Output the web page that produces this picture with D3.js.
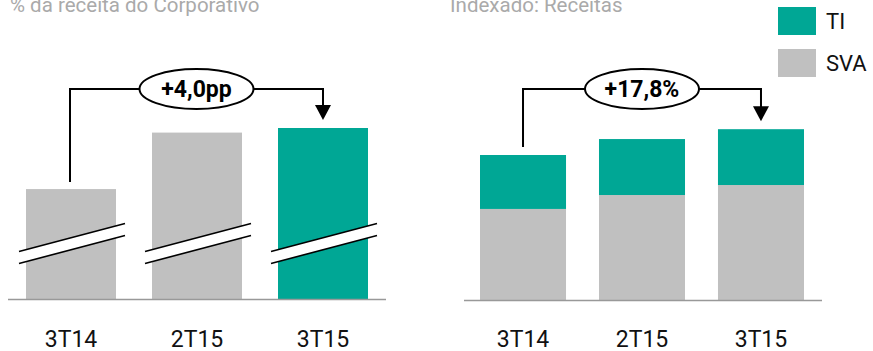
<!DOCTYPE html>
<html>
<head>
<meta charset="utf-8">
<script src="https://cdn.jsdelivr.net/npm/d3@7"></script>
<style>
  body { margin: 0; background: #fff; }
  text { font-family: Roboto, "Noto Sans", sans-serif; }
</style>
</head>
<body>
<div class="chart"></div>
<script>
// data
var periods = ["3T14", "2T15", "3T15"];
// left: % da receita do Corporativo (eixo quebrado)
var shareValues = [20.0, 23.7, 24.0];
var shareDelta = "+4,0pp";
// right: indexado, receitas (3T14 = 100)
var sva = [62.8, 72.4, 79.3];
var ti = [37.2, 38.6, 38.5];
var growthLabel = "+17,8%";
var legendLabels = ["TI", "SVA"];

var teal = "#00a795", grey = "#c0c0c0";

var svg = d3.select(".chart").append("svg")
    .attr("width", 873)
    .attr("height", 351);

var baseY = 299;

// ---------- left chart ----------
var x1 = d3.scaleBand().domain(periods).range([26, 368]).paddingInner(0.2857).paddingOuter(0);
var y1 = d3.scaleLinear().domain([12.8, 24.0]).range([baseY, 128]);

var left = svg.append("g");

left.selectAll(".bar")
    .data(shareValues)
    .enter().append("rect")
    .attr("class", "bar")
    .attr("x", function(d, i){ return x1(periods[i]); })
    .attr("width", x1.bandwidth())
    .attr("y", function(d){ return y1(d); })
    .attr("height", function(d){ return baseY - y1(d); })
    .attr("fill", function(d, i){ return i == 2 ? teal : grey; });

// axis break marks
left.selectAll(".brk")
    .data(periods)
    .enter().append("path")
    .attr("class", "brk")
    .attr("d", function(d){
      var a = x1(d) - 7, b = x1(d) + x1.bandwidth() + 9;
      return "M" + a + ",251.5 L" + b + ",223.5 L" + b + ",235.5 L" + a + ",263.5 Z";
    })
    .attr("fill", "#fff");
left.selectAll(".brkline")
    .data(d3.cross(periods, [0, 12]))
    .enter().append("line")
    .attr("x1", function(d){ return x1(d[0]) - 7; })
    .attr("x2", function(d){ return x1(d[0]) + x1.bandwidth() + 9; })
    .attr("y1", function(d){ return 251.5 + d[1]; })
    .attr("y2", function(d){ return 223.5 + d[1]; })
    .attr("stroke", "#000")
    .attr("stroke-width", 1.6);

left.append("line")
    .attr("x1", 8).attr("x2", 386)
    .attr("y1", baseY + 0.5).attr("y2", baseY + 0.5)
    .attr("stroke", "#999").attr("stroke-width", 1.6);

left.selectAll(".lbl")
    .data(periods)
    .enter().append("text")
    .attr("x", function(d){ return x1(d) + x1.bandwidth() / 2; })
    .attr("y", 347)
    .attr("text-anchor", "middle")
    .attr("font-size", 23)
    .attr("fill", "#111")
    .text(function(d){ return d; });

left.append("text")
    .attr("x", 10).attr("y", 12)
    .attr("font-size", 20.5)
    .attr("fill", "#aaa")
    .text("% da receita do Corporativo");

// ---------- right chart ----------
var x2 = d3.scaleBand().domain(periods).range([480, 804]).paddingInner(0.277).paddingOuter(0);
var y2 = d3.scaleLinear().domain([0, 100]).range([300, 155]);

var right = svg.append("g");

var stackData = periods.map(function(p, i){ return {period: p, SVA: sva[i], TI: ti[i]}; });
var series = d3.stack().keys(["SVA", "TI"])(stackData);

right.selectAll(".layer")
    .data(series)
    .enter().append("g")
    .attr("fill", function(d){ return d.key == "TI" ? teal : grey; })
    .selectAll("rect")
    .data(function(d){ return d; })
    .enter().append("rect")
    .attr("x", function(d){ return x2(d.data.period); })
    .attr("width", x2.bandwidth())
    .attr("y", function(d){ return y2(d[1]); })
    .attr("height", function(d){ return y2(d[0]) - y2(d[1]); });

right.append("line")
    .attr("x1", 464).attr("x2", 822)
    .attr("y1", 300.5).attr("y2", 300.5)
    .attr("stroke", "#999").attr("stroke-width", 1.6);

right.selectAll(".lbl")
    .data(periods)
    .enter().append("text")
    .attr("x", function(d){ return x2(d) + x2.bandwidth() / 2; })
    .attr("y", 347)
    .attr("text-anchor", "middle")
    .attr("font-size", 23)
    .attr("fill", "#111")
    .text(function(d){ return d; });

right.append("text")
    .attr("x", 450).attr("y", 12)
    .attr("font-size", 20.5)
    .attr("fill", "#aaa")
    .text("Indexado: Receitas");

// legend
var legend = right.selectAll(".leg")
    .data(legendLabels)
    .enter().append("g")
    .attr("transform", function(d, i){ return "translate(778," + (7 + i * 42) + ")"; });
legend.append("rect")
    .attr("width", 38).attr("height", 28)
    .attr("fill", function(d){ return d == "TI" ? teal : grey; });
legend.append("text")
    .attr("x", 48).attr("y", 22)
    .attr("font-size", 22)
    .attr("fill", "#111")
    .text(function(d){ return d; });

// ---------- annotations ----------
function bracket(g, xa, ya, xb, yb, label) {
  var yTop = 89, cx = (xa + xb) / 2;
  g.append("path")
      .attr("d", "M" + xa + "," + ya + " V" + yTop + " H" + xb + " V" + (yb - 14))
      .attr("fill", "none").attr("stroke", "#000").attr("stroke-width", 2);
  g.append("path")
      .attr("d", "M" + (xb - 8) + "," + (yb - 15) + " L" + (xb + 8) + "," + (yb - 15) + " L" + xb + "," + yb + " Z")
      .attr("fill", "#000");
  g.append("ellipse")
      .attr("cx", cx).attr("cy", yTop)
      .attr("rx", 57).attr("ry", 20)
      .attr("fill", "#fff").attr("stroke", "#000").attr("stroke-width", 2);
  g.append("text")
      .attr("x", cx).attr("y", yTop + 8)
      .attr("text-anchor", "middle")
      .attr("font-size", 23).attr("font-weight", "bold")
      .attr("fill", "#000")
      .text(label);
}

var xa1 = x1(periods[0]) + x1.bandwidth() / 2 - 1,
    xb1 = x1(periods[2]) + x1.bandwidth() / 2;
bracket(left, xa1, y1(shareValues[0]) - 7, xb1, y1(shareValues[2]) - 8, shareDelta);

var xa2 = x2(periods[0]) + x2.bandwidth() / 2,
    xb2 = x2(periods[2]) + x2.bandwidth() / 2;
bracket(right, xa2, y2(sva[0] + ti[0]) - 8, xb2, y2(sva[2] + ti[2]) - 8, growthLabel);
</script>
</body>
</html>
